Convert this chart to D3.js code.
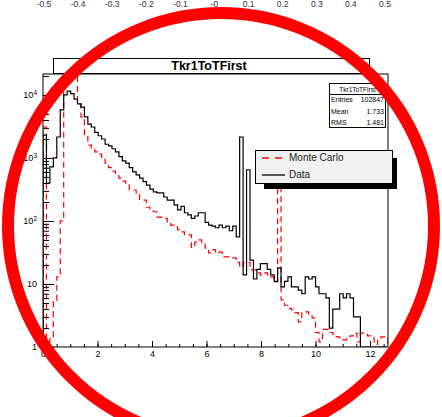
<!DOCTYPE html>
<html>
<head>
<meta charset="utf-8">
<script src="https://cdn.jsdelivr.net/npm/d3@7"></script>
<style>
	html, body {
		margin: 0;
		padding: 0;
		background: #ffffff;
	}

	svg {
		display: block;
	}

	text {
		font-family: "Liberation Sans", Arial, Helvetica, sans-serif;
		fill: #000000;
	}
</style>
</head>
<body>
<div id="chart"></div>
<script>
// Histogram Tkr1ToTFirst, 100 bins from 0 to xMax
const xMax = 12.66;
const nBins = 100;

// Monte Carlo (red dashed), normalised counts per bin
const mcCounts = [
	3100, 1.2, 1.4, 5.5, 13, 100, 30000, 45000, 40000, 28000,
	7200, 4500, 2200, 1600, 1450, 1250, 1150, 1000, 830, 700,
	620, 520, 480, 430, 400, 310, 310, 260, 215, 215,
	165, 150, 140, 115, 115, 110, 96, 86, 80, 72,
	67, 60, 60, 38, 46, 50, 45, 37, 31, 35,
	31, 32, 27, 27, 26, 26, 22, 18.6, 22, 22,
	16.7, 16.7, 15, 14, 15, 14, 13, 10.8, 500, 5.6,
	4.6, 4.1, 3.9, 3.5, 2.5, 3.6, 3.6, 3.2, 2.9, 1.7,
	1.2, 1.9, 1.9, 1.7, 1.6, 1.45, 1.35, 1.3, 1.35, 1.5,
	1.66, 1.2, 1.66, 1.6, 1.5, 1.4, 1.1, 1.4, 1.45, 1.45,
];

// Data (black solid), counts per bin
const dataCounts = [
	2300, 400, 720, 1000, 2150, 5800, 10000, 11500, 10500, 8600,
	7200, 6400, 4500, 3450, 3100, 2550, 2250, 2000, 1650, 1550,
	1400, 1250, 1050, 900, 830, 700, 600, 540, 480, 420,
	370, 320, 290, 280, 280, 240, 215, 215, 180, 150,
	170, 135, 125, 110, 120, 135, 135, 95, 86, 83,
	78, 86, 78, 83, 70, 83, 56, 2150, 14, 650,
	24, 12, 17, 21, 21, 17, 14, 11, 18, 9,
	11, 13, 9, 9, 8, 7, 13, 12, 13, 9,
	7, 7, 6, 2, 4, 4, 7, 6, 7, 6,
	3, 3, 0, 0, 0, 0, 0, 0, 0, 0,
];

const xTicks = [0, 2, 4, 6, 8, 10, 12];
const yTicks = [1, 10, 100, 1000, 10000];
const topTicks = [-0.5, -0.4, -0.3, -0.2, -0.1, 0, 0.1, 0.2, 0.3, 0.4, 0.5];
const topLabels = ["-0.5", "-0.4", "-0.3", "-0.2", "-0.1", "-0", "0.1", "0.2", "0.3", "0.4", "0.5"];

const title = "Tkr1ToTFirst";
const stats = [
	["Entries", "102847"],
	["Mean", "1.733"],
	["RMS", "1.481"],
];
const legendEntries = [
	{label: "Monte Carlo", color: "#ff0000", dash: "7,6"},
	{label: "Data", color: "#000000", dash: null},
];

const theme = {
	width: 442,
	height: 417,
	frame: {left: 43, top: 74, right: 388, bottom: 347},
	yMax: 21500,
	histDash: "6,4",
};

const svg = d3
	.select("#chart")
	.append("svg")
	.attr("width", theme.width)
	.attr("height", theme.height);

const f = theme.frame;
const x = d3.scaleLinear().domain([0, xMax]).range([f.left, f.right]);
const y = d3.scaleLog().domain([1, theme.yMax]).range([f.bottom, f.top]);
const binWidth = xMax / nBins;

// Leftover axis labels of the pad above (cut off)
const xTop = d3.scaleLinear().domain([-0.5, 0.5]).range([44, 385]);
svg
	.append("g")
	.attr("font-size", 8.5)
	.selectAll("text")
	.data(topTicks)
	.enter()
	.append("text")
	.attr("x", (d) => xTop(d))
	.attr("y", 7)
	.attr("text-anchor", "middle")
	.style("fill", "#333")
	.text((d, i) => topLabels[i]);

svg
	.append("clipPath")
	.attr("id", "frame-clip")
	.append("rect")
	.attr("x", f.left)
	.attr("y", f.top)
	.attr("width", f.right - f.left)
	.attr("height", f.bottom - f.top);

// Step outline of a histogram, values under the axis minimum sit on the floor
function stepPath(counts) {
	const floor = y(1);
	let d = `M${x(0)},${floor}`;
	counts.forEach((c, i) => {
		const top = c >= 1 ? y(c) : floor;
		d += `V${top}H${x((i + 1) * binWidth)}`;
	});
	return d + `V${floor}`;
}

const plot = svg.append("g").attr("clip-path", "url(#frame-clip)");

plot
	.append("path")
	.attr("d", stepPath(mcCounts))
	.attr("fill", "none")
	.attr("stroke", "#ff0000")
	.attr("stroke-width", 1.2)
	.attr("stroke-dasharray", theme.histDash);

plot
	.append("path")
	.attr("d", stepPath(dataCounts))
	.attr("fill", "none")
	.attr("stroke", "#000000")
	.attr("stroke-width", 1.2);

// x axis: major every 2, minor every 0.5
svg
	.append("g")
	.attr("transform", `translate(0,${f.bottom})`)
	.call(d3.axisBottom(x).tickValues(d3.range(0, xMax, 0.5)).tickSize(-3).tickFormat(""))
	.call((g) => g.select(".domain").remove());

svg
	.append("g")
	.attr("transform", `translate(0,${f.bottom})`)
	.call(d3.axisBottom(x).tickValues(xTicks).tickSize(-6).tickPadding(3.5).tickFormat(d3.format("d")))
	.call((g) => g.select(".domain").remove())
	.call((g) => g.selectAll("text").attr("font-size", 9).attr("font-family", null));

// y axis: log, minor ticks at 2..9 of each decade
const yMinor = [];
yTicks.forEach((t) => {
	for (let k = 2; k <= 9; k++) {
		if (t * k <= theme.yMax) yMinor.push(t * k);
	}
});

svg
	.append("g")
	.attr("transform", `translate(${f.left},0)`)
	.call(d3.axisLeft(y).tickValues(yMinor).tickSize(-6).tickFormat(""))
	.call((g) => g.select(".domain").remove());

svg
	.append("g")
	.attr("transform", `translate(${f.left},0)`)
	.call(d3.axisLeft(y).tickValues(yTicks).tickSize(-11).tickPadding(6).tickFormat(""))
	.call((g) => g.select(".domain").remove())
	.call((g) =>
		g
			.selectAll(".tick text")
			.attr("font-size", 9)
			.attr("font-family", null)
			.each(function (d) {
				const t = d3.select(this);
				const exp = Math.round(Math.log10(d));
				if (exp <= 1) {
					t.text(d);
				} else {
					t.append("tspan").text("10");
					t.append("tspan").attr("dy", "-0.45em").attr("font-size", 6.5).text(exp);
				}
			}),
	);

// Frame
svg
	.append("rect")
	.attr("x", f.left)
	.attr("y", f.top)
	.attr("width", f.right - f.left)
	.attr("height", f.bottom - f.top)
	.attr("fill", "none")
	.attr("stroke", "#000")
	.attr("stroke-width", 1);

// Title box
const titleBox = svg.append("g");
titleBox
	.append("rect")
	.attr("x", 53.5)
	.attr("y", 58.5)
	.attr("width", 316)
	.attr("height", 15)
	.attr("fill", "#fff")
	.attr("stroke", "#000");
titleBox
	.append("text")
	.attr("x", 209)
	.attr("y", 70)
	.attr("text-anchor", "middle")
	.attr("font-size", 12.5)
	.attr("font-weight", "bold")
	.text(title);

// Stats box
const statsBox = svg.append("g").attr("font-size", 7);
statsBox
	.append("rect")
	.attr("x", 329.5)
	.attr("y", 83.5)
	.attr("width", 56)
	.attr("height", 44)
	.attr("fill", "#fff")
	.attr("stroke", "#000");
statsBox
	.append("line")
	.attr("x1", 329.5)
	.attr("x2", 385.5)
	.attr("y1", 94.5)
	.attr("y2", 94.5)
	.attr("stroke", "#000");
statsBox
	.append("text")
	.attr("x", 357.5)
	.attr("y", 92)
	.attr("text-anchor", "middle")
	.attr("font-size", 6.5)
	.text(title);
stats.forEach(([k, v], i) => {
	statsBox
		.append("text")
		.attr("x", 331)
		.attr("y", 102 + i * 11.5)
		.text(k);
	statsBox
		.append("text")
		.attr("x", 384)
		.attr("y", 102 + i * 11.5)
		.attr("text-anchor", "end")
		.text(v);
});

// Legend with shadow
const legend = svg.append("g");
legend
	.append("rect")
	.attr("x", 264)
	.attr("y", 158)
	.attr("width", 133)
	.attr("height", 31)
	.attr("fill", "#000");
legend
	.append("rect")
	.attr("x", 255.5)
	.attr("y", 150.5)
	.attr("width", 137)
	.attr("height", 33)
	.attr("fill", "#f0f0f0")
	.attr("stroke", "#000");
legendEntries.forEach((e, i) => {
	const ly = 158 + i * 17;
	legend
		.append("line")
		.attr("x1", 262)
		.attr("x2", 285)
		.attr("y1", ly)
		.attr("y2", ly)
		.attr("stroke", e.color)
		.attr("stroke-width", 1.3)
		.attr("stroke-dasharray", e.dash);
	legend
		.append("text")
		.attr("x", 289)
		.attr("y", ly + 3)
		.attr("font-size", 10)
		.style("fill", "#222")
		.text(e.label);
});

// Red annotation circle drawn over the figure
svg
	.append("circle")
	.attr("cx", 221)
	.attr("cy", 226)
	.attr("r", 213)
	.attr("fill", "none")
	.attr("stroke", "#ff0000")
	.attr("stroke-width", 12);
</script>
</body>
</html>
